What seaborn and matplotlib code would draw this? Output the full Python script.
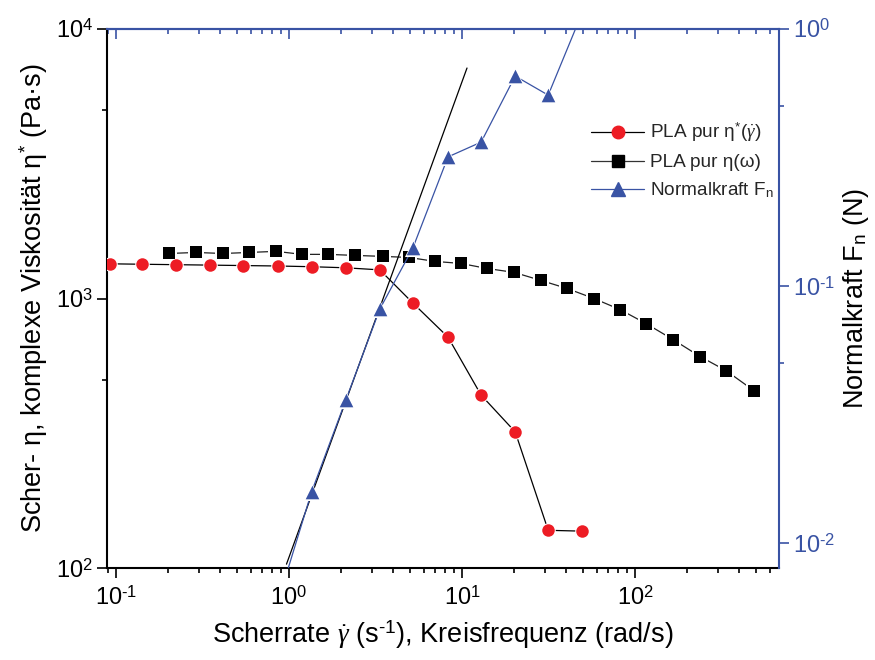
import matplotlib
matplotlib.use("Agg")
import numpy as np
import pandas as pd
import matplotlib.pyplot as plt
import seaborn as sns
from matplotlib.ticker import LogLocator, NullFormatter, FuncFormatter
from matplotlib.lines import Line2D

# ---- data ----
shear_rate = [0.0923, 0.1415, 0.223, 0.351, 0.545, 0.869, 1.35, 2.13, 3.35,
              5.2, 8.3, 12.9, 20.3, 31.5, 49.6]
eta_shear = [1345, 1340, 1335, 1330, 1325, 1320, 1312, 1300, 1277,
             962, 719, 438, 320, 138, 137]

omega = [0.202, 0.290, 0.415, 0.587, 0.841, 1.19, 1.68, 2.41, 3.49, 4.94,
         6.98, 9.87, 13.9, 20.0, 28.6, 40.4, 57.9, 81.9, 116, 166, 238, 336, 487]
eta_complex = [1469, 1482, 1469, 1482, 1496, 1458, 1458, 1445, 1433, 1420,
               1373, 1349, 1293, 1250, 1167, 1090, 1000, 910, 807, 704, 609, 540, 455]

force_rate = [0.869, 1.35, 2.13, 3.35, 5.2, 8.3, 12.9, 20.3, 31.5, 49.6]
normal_force = [0.006, 0.0158, 0.036, 0.0814, 0.1406, 0.318, 0.363, 0.656, 0.553, 1.16]

fit_rate = [0.967, 10.69]
fit_force = [0.00828, 0.705]

labels = ["PLA pur η$^{*}$($\\dot{\\gamma}$)", "PLA pur η(ω)", "Normalkraft F$_\\mathregular{n}$"]
x_label = "Scherrate $\\dot{\\gamma}$ (s$^{\\text{-1}}$), Kreisfrequenz (rad/s)"
y_label = "Scher- η, komplexe Viskosität η$^{*}$ (Pa·s)"
y2_label = "Normalkraft F$_\\mathregular{n}$ (N)"

# ---- style ----
sns.set_theme(style="ticks")
plt.rcParams["font.family"] = ["Liberation Sans", "DejaVu Sans"]
plt.rcParams["mathtext.fontset"] = "custom"
plt.rcParams["mathtext.rm"] = "Liberation Sans"
plt.rcParams["mathtext.it"] = "Liberation Serif:italic"
plt.rcParams["mathtext.bf"] = "Liberation Sans:bold"
plt.rcParams["axes.unicode_minus"] = False

RED = "#ED1C24"
BLUE = "#3953A4"
BLACK = "#000000"

df_red = pd.DataFrame({"x": shear_rate, "y": eta_shear})
df_blk = pd.DataFrame({"x": omega, "y": eta_complex})
df_blu = pd.DataFrame({"x": force_rate, "y": normal_force})
df_fit = pd.DataFrame({"x": fit_rate, "y": fit_force})

fig = plt.figure(figsize=(8.75, 6.6), dpi=100)
ax = fig.add_axes([107 / 875, 1 - 568 / 660, (779 - 107) / 875, (568 - 29) / 660])
ax2 = ax.twinx()
ax.set_facecolor("white")
ax2.patch.set_visible(False)


def series(axis, df, color, line_color, marker, ms, halo):
    sns.lineplot(data=df, x="x", y="y", ax=axis, color=line_color, lw=0.9,
                 sort=False, estimator=None, legend=False, zorder=2)
    sns.scatterplot(data=df, x="x", y="y", ax=axis, color="white", marker=marker,
                    s=(ms + halo) ** 2, linewidth=0, legend=False, zorder=3)
    sns.scatterplot(data=df, x="x", y="y", ax=axis, color=color, marker=marker,
                    s=ms ** 2, linewidth=0, legend=False, zorder=4)


series(ax, df_red, RED, BLACK, "o", 9.0, 1.5)
series(ax, df_blk, BLACK, "#222222", "s", 8.0, 4.0)
sns.lineplot(data=df_fit, x="x", y="y", ax=ax2, color=BLACK, lw=0.9,
             sort=False, estimator=None, legend=False, zorder=2)
series(ax2, df_blu, BLUE, BLUE, "^", 9.8, 2.5)

# ---- scales ----
ax.set_xscale("log")
ax.set_yscale("log")
ax2.set_yscale("log")
ax.set_xlim(0.0887, 680)
ax.set_ylim(100, 10000)
ax2.set_ylim(0.008, 1.0)


def pow10(v, pos):
    e = int(np.round(np.log10(v)))
    return "10$^{\\text{%d}}$" % e


fmt = FuncFormatter(pow10)
ax.xaxis.set_major_locator(LogLocator(base=10, numticks=10))
ax.xaxis.set_minor_locator(LogLocator(base=10, subs=np.arange(2, 10), numticks=20))
ax.xaxis.set_major_formatter(fmt)
ax.xaxis.set_minor_formatter(NullFormatter())
ax.yaxis.set_major_locator(LogLocator(base=10, numticks=10))
ax.yaxis.set_minor_locator(LogLocator(base=10, subs=[5.0], numticks=10))
ax.yaxis.set_major_formatter(fmt)
ax.yaxis.set_minor_formatter(NullFormatter())
ax2.yaxis.set_major_locator(LogLocator(base=10, numticks=10))
ax2.yaxis.set_minor_locator(LogLocator(base=10, subs=[5.0], numticks=10))
ax2.yaxis.set_major_formatter(fmt)
ax2.yaxis.set_minor_formatter(NullFormatter())

# ---- spines & ticks ----
for a in (ax, ax2):
    for s in a.spines.values():
        s.set_linewidth(1.5)
ax.spines["left"].set_color(BLACK)
ax.spines["bottom"].set_color(BLACK)
ax.spines["top"].set_color(BLUE)
ax.spines["right"].set_visible(False)
ax2.spines["right"].set_color(BLUE)
ax2.spines["left"].set_visible(False)
ax2.spines["top"].set_visible(False)
ax2.spines["bottom"].set_visible(False)

TICK_FS = 17
ax.tick_params(axis="both", which="major", direction="out", length=7, width=1.2,
               labelsize=TICK_FS, colors=BLACK, top=False, right=False)
ax.tick_params(axis="both", which="minor", direction="out", length=3.8, width=1.2,
               top=False, right=False, colors=BLACK)
ax.tick_params(axis="x", which="major", pad=6)
ax.tick_params(axis="y", which="major", pad=3)
ax2.tick_params(axis="y", which="major", direction="out", length=7, width=1.2,
                labelsize=TICK_FS, colors=BLUE, pad=3)
ax2.tick_params(axis="y", which="minor", direction="out", length=3.8, width=1.2,
                colors=BLUE)

# top axis with inward ticks
top = ax.secondary_xaxis("top")
top.set_xscale("log")
top.xaxis.set_major_locator(LogLocator(base=10, numticks=10))
top.xaxis.set_minor_locator(LogLocator(base=10, subs=np.arange(2, 10), numticks=20))
top.tick_params(axis="x", which="major", direction="in", length=7, width=1.2,
                colors=BLUE, labeltop=False)
top.tick_params(axis="x", which="minor", direction="in", length=3.8, width=1.2,
                colors=BLUE, labeltop=False)
top.xaxis.set_major_formatter(NullFormatter())
top.xaxis.set_minor_formatter(NullFormatter())
top.spines["top"].set_color(BLUE)
top.spines["top"].set_linewidth(1.5)

LAB_FS = 19.5
ax.set_xlabel(x_label, fontsize=LAB_FS, color=BLACK, labelpad=6)
ax.set_ylabel(y_label, fontsize=LAB_FS, color=BLACK, labelpad=4)
ax2.set_ylabel(y2_label, fontsize=LAB_FS, color=BLACK, labelpad=4)

# ---- legend ----
handles = [
    Line2D([], [], color=BLACK, lw=0.9, marker="o", markersize=9.0,
           markerfacecolor=RED, markeredgecolor=RED),
    Line2D([], [], color="#333333", lw=0.9, marker="s", markersize=8.0,
           markerfacecolor=BLACK, markeredgecolor=BLACK),
    Line2D([], [], color=BLUE, lw=0.9, marker="^", markersize=9.8,
           markerfacecolor=BLUE, markeredgecolor=BLUE),
]
leg = ax2.legend(handles, labels, loc="upper left",
                 bbox_to_anchor=(591 / 875, 1 - 121 / 660),
                 bbox_transform=fig.transFigure, frameon=False, fontsize=13.7,
                 handlelength=2.8, handletextpad=0.3, labelspacing=0.5,
                 borderaxespad=0, borderpad=0)

fig.savefig("out.png", dpi=100)
